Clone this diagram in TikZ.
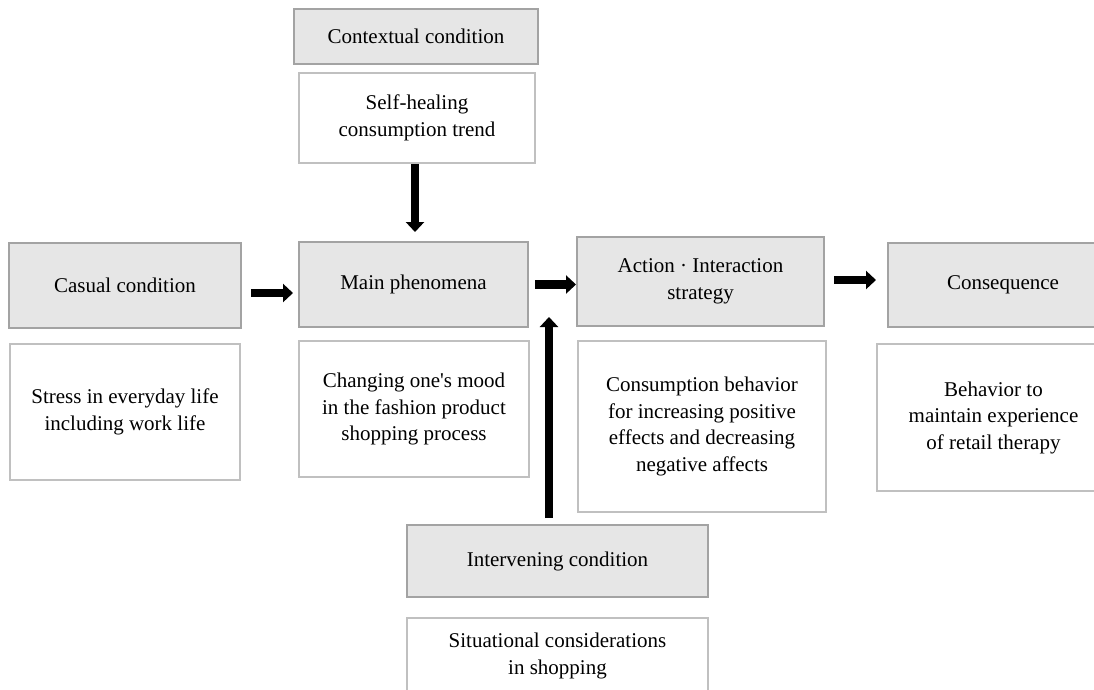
\documentclass[tikz,border=0pt]{standalone}
\usepackage{fontspec}
\setmainfont{Liberation Serif}
\usetikzlibrary{arrows.meta}
\definecolor{boxgray}{HTML}{E6E6E6}
\definecolor{edgegray}{HTML}{A3A3A3}
\definecolor{edgelight}{HTML}{C0C0C0}
\begin{document}
\begin{tikzpicture}[x=1pt,y=-1pt,
  every node/.style={font=\fontsize{21}{26.5}\selectfont, align=center, inner sep=0pt},
  head/.style={draw=edgegray, line width=2pt, fill=boxgray},
  body/.style={draw=edgelight, line width=1.5pt, fill=white},
  bigarrow/.style={line width=8.5pt, -{Triangle[width=18pt,length=10pt]}}
]
\clip (0,0) rectangle (1094,689);
\fill[white] (0,0) rectangle (1094,689);
% heading boxes
\node[head, minimum width=244, minimum height=55] (ctx) at (416,36.5) {Contextual condition};
\node[head, minimum width=232, minimum height=85] (casual) at (125,285) {Casual condition};
\node[head, minimum width=229, minimum height=85] (main) at (413.5,284.5) {Main phenomena};
\node[head, minimum width=247, minimum height=89] (action) at (700.5,281.5) {Action · Interaction\\strategy};
\node[head, minimum width=230, minimum height=84] (conseq) at (1003,285) {Consequence};
\node[head, minimum width=301, minimum height=72] (interv) at (557.5,561) {Intervening condition};
% content boxes
\node[body, minimum width=236, minimum height=90] (selfheal) at (417,118) {Self-healing\\consumption trend};
\node[body, minimum width=230, minimum height=136] (stress) at (125,412) {Stress in everyday life\\including work life};
\node[body, minimum width=230, minimum height=136] (changing) at (414,409) {Changing one\textquotesingle s mood\\in the fashion product\\shopping process};
\node[body, minimum width=248, minimum height=171] (consump) at (702,426.5) {Consumption behavior\\for increasing positive\\effects and decreasing\\negative affects};
\node[body, minimum width=233, minimum height=147] (behav) at (993.5,417.5) {Behavior to\\maintain experience\\of retail therapy};
\node[body, minimum width=301, minimum height=76] (situ) at (557.5,656) {Situational considerations\\in shopping};
% arrows
\draw[bigarrow, shorten <=9pt, shorten >=5pt] ([yshift=-8pt]casual.east) -- ([yshift=-8pt]casual.east -| main.west);
\draw[bigarrow, shorten <=6pt] (main.east) -- (main.east -| action.west);
\draw[bigarrow, shorten <=9pt, shorten >=11pt] ([yshift=1.5pt]action.east) -- ([yshift=1.5pt]action.east -| conseq.west);
\draw[bigarrow, shorten >=9pt] ([xshift=-2pt]selfheal.south) -- ([xshift=-2pt]selfheal.south |- main.north);
\coordinate (uptip) at (549,317);
\draw[bigarrow, shorten <=6pt] (interv.north -| uptip) -- (uptip);
\end{tikzpicture}
\end{document}
